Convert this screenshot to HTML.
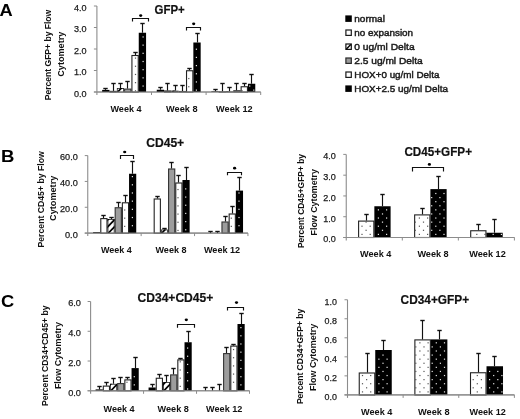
<!DOCTYPE html>
<html><head><meta charset="utf-8"><title>Figure</title>
<style>
html,body{margin:0;padding:0;background:#fff;}
body{width:520px;height:419px;overflow:hidden;}
svg{display:block;font-family:"Liberation Sans", sans-serif;filter:blur(0.3px);}
</style></head><body>
<svg width="520" height="419" viewBox="0 0 520 419">
<rect x="0" y="0" width="520" height="419" fill="#fff"/>
<line x1="96.9" y1="6" x2="96.9" y2="95" stroke="#8c8c8c" stroke-width="1.1"/>
<line x1="93.9" y1="6" x2="96.9" y2="6" stroke="#8c8c8c" stroke-width="1"/>
<text x="86.6" y="10.8" font-size="9.5" font-weight="normal" text-anchor="end" fill="#1a1a1a" textLength="12.6" lengthAdjust="spacingAndGlyphs" stroke="#1a1a1a" stroke-width="0.25">4.0</text>
<line x1="93.9" y1="27.5" x2="96.9" y2="27.5" stroke="#8c8c8c" stroke-width="1"/>
<text x="86.6" y="32.3" font-size="9.5" font-weight="normal" text-anchor="end" fill="#1a1a1a" textLength="12.6" lengthAdjust="spacingAndGlyphs" stroke="#1a1a1a" stroke-width="0.25">3.0</text>
<line x1="93.9" y1="49" x2="96.9" y2="49" stroke="#8c8c8c" stroke-width="1"/>
<text x="86.6" y="53.8" font-size="9.5" font-weight="normal" text-anchor="end" fill="#1a1a1a" textLength="12.6" lengthAdjust="spacingAndGlyphs" stroke="#1a1a1a" stroke-width="0.25">2.0</text>
<line x1="93.9" y1="70.5" x2="96.9" y2="70.5" stroke="#8c8c8c" stroke-width="1"/>
<text x="86.6" y="75.3" font-size="9.5" font-weight="normal" text-anchor="end" fill="#1a1a1a" textLength="12.6" lengthAdjust="spacingAndGlyphs" stroke="#1a1a1a" stroke-width="0.25">1.0</text>
<line x1="93.9" y1="92" x2="96.9" y2="92" stroke="#8c8c8c" stroke-width="1"/>
<text x="86.6" y="96.8" font-size="9.5" font-weight="normal" text-anchor="end" fill="#1a1a1a" textLength="12.6" lengthAdjust="spacingAndGlyphs" stroke="#1a1a1a" stroke-width="0.25">0.0</text>
<line x1="93.9" y1="92" x2="260.7" y2="92" stroke="#8c8c8c" stroke-width="1.1"/>
<line x1="151.5" y1="92" x2="151.5" y2="95" stroke="#8c8c8c" stroke-width="1"/>
<line x1="206.1" y1="92" x2="206.1" y2="95" stroke="#8c8c8c" stroke-width="1"/>
<line x1="260.7" y1="92" x2="260.7" y2="95" stroke="#8c8c8c" stroke-width="1"/>
<rect x="102.15" y="89.9" width="7.32" height="2.1" fill="#000"/>
<rect x="109.97" y="91.4" width="6.32" height="0.6" fill="#fff" stroke="#222" stroke-width="1.1"/>
<clipPath id="c17"><rect x="116.79" y="88" width="7.32" height="4"/></clipPath>
<rect x="117.29" y="88.5" width="6.32" height="3.5" fill="#fff" stroke="#222" stroke-width="0.8"/>
<g clip-path="url(#c17)">
<line x1="115.79" y1="94" x2="125.11" y2="84.21" stroke="#000" stroke-width="1.7"/>
<line x1="115.79" y1="87" x2="125.11" y2="77.21" stroke="#000" stroke-width="1.7"/>
<line x1="115.79" y1="80" x2="125.11" y2="70.21" stroke="#000" stroke-width="1.7"/>
</g>
<rect x="124.61" y="89.1" width="6.32" height="2.9" fill="#9d9d9d" stroke="#333" stroke-width="1.1"/>
<rect x="131.93" y="55.5" width="6.32" height="36.5" fill="#fff" stroke="#222" stroke-width="1.1"/>
<rect x="134.9" y="57.5" width="1.2" height="1.2" fill="#555"/>
<rect x="134.9" y="65.68" width="1.2" height="1.2" fill="#555"/>
<rect x="134.9" y="73.86" width="1.2" height="1.2" fill="#555"/>
<rect x="134.9" y="82.04" width="1.2" height="1.2" fill="#555"/>
<rect x="134.9" y="90.22" width="1.2" height="1.2" fill="#555"/>
<rect x="138.75" y="32.75" width="7.32" height="59.25" fill="#000"/>
<rect x="142.5" y="36.36" width="1.2" height="1.2" fill="#e8e8e8"/>
<rect x="142.5" y="44.54" width="1.2" height="1.2" fill="#e8e8e8"/>
<rect x="142.5" y="52.72" width="1.2" height="1.2" fill="#e8e8e8"/>
<rect x="142.5" y="60.9" width="1.2" height="1.2" fill="#e8e8e8"/>
<rect x="142.5" y="69.08" width="1.2" height="1.2" fill="#e8e8e8"/>
<rect x="142.5" y="77.26" width="1.2" height="1.2" fill="#e8e8e8"/>
<rect x="142.5" y="85.44" width="1.2" height="1.2" fill="#e8e8e8"/>
<line x1="105.5" y1="89.9" x2="105.5" y2="88.5" stroke="#111" stroke-width="1.15"/>
<line x1="103.3" y1="88.5" x2="107.7" y2="88.5" stroke="#111" stroke-width="1.4"/>
<line x1="113.5" y1="90.9" x2="113.5" y2="83.5" stroke="#111" stroke-width="1.15"/>
<line x1="111.3" y1="83.5" x2="115.7" y2="83.5" stroke="#111" stroke-width="1.4"/>
<line x1="120.5" y1="88" x2="120.5" y2="83.5" stroke="#111" stroke-width="1.15"/>
<line x1="118.3" y1="83.5" x2="122.7" y2="83.5" stroke="#111" stroke-width="1.4"/>
<line x1="127.5" y1="88.6" x2="127.5" y2="81.5" stroke="#111" stroke-width="1.15"/>
<line x1="125.3" y1="81.5" x2="129.7" y2="81.5" stroke="#111" stroke-width="1.4"/>
<line x1="135.5" y1="55" x2="135.5" y2="52.5" stroke="#111" stroke-width="1.15"/>
<line x1="133.3" y1="52.5" x2="137.7" y2="52.5" stroke="#111" stroke-width="1.4"/>
<line x1="142.5" y1="32.75" x2="142.5" y2="23.5" stroke="#111" stroke-width="1.15"/>
<line x1="140.3" y1="23.5" x2="144.7" y2="23.5" stroke="#111" stroke-width="1.4"/>
<rect x="156.75" y="89.75" width="7.32" height="2.25" fill="#000"/>
<rect x="164.57" y="91" width="6.32" height="1" fill="#fff" stroke="#222" stroke-width="1.1"/>
<clipPath id="c53"><rect x="171.39" y="90.6" width="7.32" height="1.4"/></clipPath>
<rect x="171.89" y="91.1" width="6.32" height="0.9" fill="#fff" stroke="#222" stroke-width="0.8"/>
<g clip-path="url(#c53)">
<line x1="170.39" y1="94" x2="179.71" y2="84.21" stroke="#000" stroke-width="1.7"/>
<line x1="170.39" y1="87" x2="179.71" y2="77.21" stroke="#000" stroke-width="1.7"/>
<line x1="170.39" y1="80" x2="179.71" y2="70.21" stroke="#000" stroke-width="1.7"/>
</g>
<rect x="179.21" y="91.5" width="6.32" height="0.5" fill="#9d9d9d" stroke="#333" stroke-width="1.1"/>
<rect x="186.53" y="70.75" width="6.32" height="21.25" fill="#fff" stroke="#222" stroke-width="1.1"/>
<rect x="188.2" y="77.95" width="1.2" height="1.2" fill="#555"/>
<rect x="188.2" y="86.13" width="1.2" height="1.2" fill="#555"/>
<rect x="193.35" y="42.5" width="7.32" height="49.5" fill="#000"/>
<rect x="195.8" y="48.63" width="1.2" height="1.2" fill="#e8e8e8"/>
<rect x="195.8" y="56.81" width="1.2" height="1.2" fill="#e8e8e8"/>
<rect x="195.8" y="64.99" width="1.2" height="1.2" fill="#e8e8e8"/>
<rect x="195.8" y="73.17" width="1.2" height="1.2" fill="#e8e8e8"/>
<rect x="195.8" y="81.35" width="1.2" height="1.2" fill="#e8e8e8"/>
<rect x="195.8" y="89.53" width="1.2" height="1.2" fill="#e8e8e8"/>
<line x1="160.5" y1="89.75" x2="160.5" y2="87.5" stroke="#111" stroke-width="1.15"/>
<line x1="158.3" y1="87.5" x2="162.7" y2="87.5" stroke="#111" stroke-width="1.4"/>
<line x1="167.5" y1="90.5" x2="167.5" y2="83.5" stroke="#111" stroke-width="1.15"/>
<line x1="165.3" y1="83.5" x2="169.7" y2="83.5" stroke="#111" stroke-width="1.4"/>
<line x1="175.5" y1="90.6" x2="175.5" y2="85.5" stroke="#111" stroke-width="1.15"/>
<line x1="173.3" y1="85.5" x2="177.7" y2="85.5" stroke="#111" stroke-width="1.4"/>
<line x1="182.5" y1="91" x2="182.5" y2="85.5" stroke="#111" stroke-width="1.15"/>
<line x1="180.3" y1="85.5" x2="184.7" y2="85.5" stroke="#111" stroke-width="1.4"/>
<line x1="189.5" y1="70.25" x2="189.5" y2="68.5" stroke="#111" stroke-width="1.15"/>
<line x1="187.3" y1="68.5" x2="191.7" y2="68.5" stroke="#111" stroke-width="1.4"/>
<line x1="197.5" y1="42.5" x2="197.5" y2="33.5" stroke="#111" stroke-width="1.15"/>
<line x1="195.3" y1="33.5" x2="199.7" y2="33.5" stroke="#111" stroke-width="1.4"/>
<rect x="211.35" y="91.4" width="7.32" height="0.6" fill="#000"/>
<rect x="219.17" y="91.9" width="6.32" height="0.1" fill="#fff" stroke="#222" stroke-width="1.1"/>
<clipPath id="c85"><rect x="225.99" y="91.4" width="7.32" height="0.6"/></clipPath>
<rect x="226.49" y="91.9" width="6.32" height="0.1" fill="#fff" stroke="#222" stroke-width="0.8"/>
<g clip-path="url(#c85)">
<line x1="224.99" y1="94" x2="234.31" y2="84.21" stroke="#000" stroke-width="1.7"/>
<line x1="224.99" y1="87" x2="234.31" y2="77.21" stroke="#000" stroke-width="1.7"/>
<line x1="224.99" y1="80" x2="234.31" y2="70.21" stroke="#000" stroke-width="1.7"/>
</g>
<rect x="233.81" y="90.75" width="6.32" height="1.25" fill="#9d9d9d" stroke="#333" stroke-width="1.1"/>
<rect x="241.13" y="86.75" width="6.32" height="5.25" fill="#fff" stroke="#222" stroke-width="1.1"/>
<rect x="241.5" y="90.22" width="1.2" height="1.2" fill="#555"/>
<rect x="247.95" y="83.75" width="7.32" height="8.25" fill="#000"/>
<rect x="249.1" y="85.44" width="1.2" height="1.2" fill="#e8e8e8"/>
<rect x="253.2" y="89.53" width="1.2" height="1.2" fill="#e8e8e8"/>
<line x1="215.5" y1="91.4" x2="215.5" y2="89.5" stroke="#111" stroke-width="1.15"/>
<line x1="213.3" y1="89.5" x2="217.7" y2="89.5" stroke="#111" stroke-width="1.4"/>
<line x1="222.5" y1="91.4" x2="222.5" y2="83.5" stroke="#111" stroke-width="1.15"/>
<line x1="220.3" y1="83.5" x2="224.7" y2="83.5" stroke="#111" stroke-width="1.4"/>
<line x1="229.5" y1="91.4" x2="229.5" y2="87.5" stroke="#111" stroke-width="1.15"/>
<line x1="227.3" y1="87.5" x2="231.7" y2="87.5" stroke="#111" stroke-width="1.4"/>
<line x1="236.5" y1="90.25" x2="236.5" y2="83.5" stroke="#111" stroke-width="1.15"/>
<line x1="234.3" y1="83.5" x2="238.7" y2="83.5" stroke="#111" stroke-width="1.4"/>
<line x1="244.5" y1="86.25" x2="244.5" y2="83.5" stroke="#111" stroke-width="1.15"/>
<line x1="242.3" y1="83.5" x2="246.7" y2="83.5" stroke="#111" stroke-width="1.4"/>
<line x1="251.5" y1="83.75" x2="251.5" y2="74.5" stroke="#111" stroke-width="1.15"/>
<line x1="249.3" y1="74.5" x2="253.7" y2="74.5" stroke="#111" stroke-width="1.4"/>
<line x1="96.9" y1="92" x2="260.7" y2="92" stroke="#8c8c8c" stroke-width="1"/>
<path d="M132.5 21.4 V18.5 H148.5 V21.4" fill="none" stroke="#111" stroke-width="1.15"/>
<ellipse cx="140.7" cy="15.6" rx="1.6" ry="1.35" fill="#000"/>
<path d="M186.5 30.6 V27.5 H200.5 V30.6" fill="none" stroke="#111" stroke-width="1.15"/>
<ellipse cx="193.7" cy="23.8" rx="1.6" ry="1.35" fill="#000"/>
<text x="110.5" y="112.2" font-size="9.7" font-weight="bold" text-anchor="start" fill="#111" textLength="31" lengthAdjust="spacingAndGlyphs">Week 4</text>
<text x="166.1" y="112.2" font-size="9.7" font-weight="bold" text-anchor="start" fill="#111" textLength="31.5" lengthAdjust="spacingAndGlyphs">Week 8</text>
<text x="216.1" y="112.2" font-size="9.7" font-weight="bold" text-anchor="start" fill="#111" textLength="36.6" lengthAdjust="spacingAndGlyphs">Week 12</text>
<text x="154.6" y="13.7" font-size="12.54" font-weight="bold" text-anchor="start" fill="#111" textLength="30.2" lengthAdjust="spacingAndGlyphs" stroke="#111" stroke-width="0.2">GFP+</text>
<text transform="translate(50.9 55) rotate(-90)" x="0" y="0" font-size="8.6" font-weight="bold" text-anchor="middle" fill="#111" textLength="90.5" lengthAdjust="spacingAndGlyphs">Percent GFP+ by Flow</text>
<text transform="translate(63.6 54.2) rotate(-90)" x="0" y="0" font-size="8.6" font-weight="bold" text-anchor="middle" fill="#111" textLength="45" lengthAdjust="spacingAndGlyphs">Cytometry</text>
<line x1="87.75" y1="155.6" x2="87.75" y2="236.1" stroke="#8c8c8c" stroke-width="1.1"/>
<line x1="84.75" y1="155.6" x2="87.75" y2="155.6" stroke="#8c8c8c" stroke-width="1"/>
<text x="77.8" y="160.4" font-size="9.5" font-weight="normal" text-anchor="end" fill="#1a1a1a" textLength="17.8" lengthAdjust="spacingAndGlyphs" stroke="#1a1a1a" stroke-width="0.25">60.0</text>
<line x1="84.75" y1="181.43" x2="87.75" y2="181.43" stroke="#8c8c8c" stroke-width="1"/>
<text x="77.8" y="186.23" font-size="9.5" font-weight="normal" text-anchor="end" fill="#1a1a1a" textLength="17.8" lengthAdjust="spacingAndGlyphs" stroke="#1a1a1a" stroke-width="0.25">40.0</text>
<line x1="84.75" y1="207.27" x2="87.75" y2="207.27" stroke="#8c8c8c" stroke-width="1"/>
<text x="77.8" y="212.07" font-size="9.5" font-weight="normal" text-anchor="end" fill="#1a1a1a" textLength="17.8" lengthAdjust="spacingAndGlyphs" stroke="#1a1a1a" stroke-width="0.25">20.0</text>
<line x1="84.75" y1="233.1" x2="87.75" y2="233.1" stroke="#8c8c8c" stroke-width="1"/>
<text x="77.8" y="237.9" font-size="9.5" font-weight="normal" text-anchor="end" fill="#1a1a1a" textLength="12.8" lengthAdjust="spacingAndGlyphs" stroke="#1a1a1a" stroke-width="0.25">0.0</text>
<line x1="84.75" y1="233.1" x2="247.95" y2="233.1" stroke="#8c8c8c" stroke-width="1.1"/>
<line x1="141.15" y1="233.1" x2="141.15" y2="236.1" stroke="#8c8c8c" stroke-width="1"/>
<line x1="194.55" y1="233.1" x2="194.55" y2="236.1" stroke="#8c8c8c" stroke-width="1"/>
<line x1="247.95" y1="233.1" x2="247.95" y2="236.1" stroke="#8c8c8c" stroke-width="1"/>
<rect x="93.1" y="232.2" width="7.19" height="0.9" fill="#000"/>
<rect x="100.79" y="218.6" width="6.19" height="14.5" fill="#fff" stroke="#222" stroke-width="1.1"/>
<clipPath id="c136"><rect x="107.48" y="219" width="7.19" height="14.1"/></clipPath>
<rect x="107.98" y="219.5" width="6.19" height="13.6" fill="#fff" stroke="#222" stroke-width="0.8"/>
<g clip-path="url(#c136)">
<line x1="106.48" y1="235.1" x2="115.67" y2="225.45" stroke="#000" stroke-width="1.7"/>
<line x1="106.48" y1="228.1" x2="115.67" y2="218.45" stroke="#000" stroke-width="1.7"/>
<line x1="106.48" y1="221.1" x2="115.67" y2="211.45" stroke="#000" stroke-width="1.7"/>
<line x1="106.48" y1="214.1" x2="115.67" y2="204.45" stroke="#000" stroke-width="1.7"/>
<line x1="106.48" y1="207.1" x2="115.67" y2="197.45" stroke="#000" stroke-width="1.7"/>
</g>
<rect x="115.17" y="207.75" width="6.19" height="25.35" fill="#9d9d9d" stroke="#333" stroke-width="1.1"/>
<rect x="122.36" y="202.8" width="6.19" height="30.3" fill="#fff" stroke="#222" stroke-width="1.1"/>
<rect x="124.1" y="209.4" width="1.2" height="1.2" fill="#555"/>
<rect x="124.1" y="217.58" width="1.2" height="1.2" fill="#555"/>
<rect x="124.1" y="225.76" width="1.2" height="1.2" fill="#555"/>
<rect x="129.05" y="173.75" width="7.19" height="59.35" fill="#000"/>
<rect x="131.8" y="176.02" width="1.2" height="1.2" fill="#e8e8e8"/>
<rect x="131.8" y="184.2" width="1.2" height="1.2" fill="#e8e8e8"/>
<rect x="131.8" y="192.38" width="1.2" height="1.2" fill="#e8e8e8"/>
<rect x="131.8" y="200.56" width="1.2" height="1.2" fill="#e8e8e8"/>
<rect x="131.8" y="208.74" width="1.2" height="1.2" fill="#e8e8e8"/>
<rect x="131.8" y="216.92" width="1.2" height="1.2" fill="#e8e8e8"/>
<rect x="131.8" y="225.1" width="1.2" height="1.2" fill="#e8e8e8"/>
<line x1="103.5" y1="218.1" x2="103.5" y2="215.5" stroke="#111" stroke-width="1.15"/>
<line x1="101.3" y1="215.5" x2="105.7" y2="215.5" stroke="#111" stroke-width="1.4"/>
<line x1="111.5" y1="219" x2="111.5" y2="217.5" stroke="#111" stroke-width="1.15"/>
<line x1="109.3" y1="217.5" x2="113.7" y2="217.5" stroke="#111" stroke-width="1.4"/>
<line x1="118.5" y1="207.25" x2="118.5" y2="202.5" stroke="#111" stroke-width="1.15"/>
<line x1="116.3" y1="202.5" x2="120.7" y2="202.5" stroke="#111" stroke-width="1.4"/>
<line x1="125.5" y1="202.3" x2="125.5" y2="195.5" stroke="#111" stroke-width="1.15"/>
<line x1="123.3" y1="195.5" x2="127.7" y2="195.5" stroke="#111" stroke-width="1.4"/>
<line x1="132.5" y1="173.75" x2="132.5" y2="161.5" stroke="#111" stroke-width="1.15"/>
<line x1="130.3" y1="161.5" x2="134.7" y2="161.5" stroke="#111" stroke-width="1.4"/>
<rect x="154.19" y="199" width="6.19" height="34.1" fill="#fff" stroke="#222" stroke-width="1.1"/>
<clipPath id="c169"><rect x="160.88" y="229.4" width="7.19" height="3.7"/></clipPath>
<rect x="161.38" y="229.9" width="6.19" height="3.2" fill="#fff" stroke="#222" stroke-width="0.8"/>
<g clip-path="url(#c169)">
<line x1="159.88" y1="235.1" x2="169.07" y2="225.45" stroke="#000" stroke-width="1.7"/>
<line x1="159.88" y1="228.1" x2="169.07" y2="218.45" stroke="#000" stroke-width="1.7"/>
<line x1="159.88" y1="221.1" x2="169.07" y2="211.45" stroke="#000" stroke-width="1.7"/>
</g>
<rect x="168.57" y="169" width="6.19" height="64.1" fill="#9d9d9d" stroke="#333" stroke-width="1.1"/>
<rect x="175.76" y="183" width="6.19" height="50.1" fill="#fff" stroke="#222" stroke-width="1.1"/>
<rect x="177.4" y="188.95" width="1.2" height="1.2" fill="#555"/>
<rect x="177.4" y="197.13" width="1.2" height="1.2" fill="#555"/>
<rect x="177.4" y="205.31" width="1.2" height="1.2" fill="#555"/>
<rect x="177.4" y="213.49" width="1.2" height="1.2" fill="#555"/>
<rect x="177.4" y="221.67" width="1.2" height="1.2" fill="#555"/>
<rect x="177.4" y="229.85" width="1.2" height="1.2" fill="#555"/>
<rect x="182.45" y="180" width="7.19" height="53.1" fill="#000"/>
<rect x="185.1" y="188.29" width="1.2" height="1.2" fill="#e8e8e8"/>
<rect x="185.1" y="196.47" width="1.2" height="1.2" fill="#e8e8e8"/>
<rect x="185.1" y="204.65" width="1.2" height="1.2" fill="#e8e8e8"/>
<rect x="185.1" y="212.83" width="1.2" height="1.2" fill="#e8e8e8"/>
<rect x="185.1" y="221.01" width="1.2" height="1.2" fill="#e8e8e8"/>
<rect x="185.1" y="229.19" width="1.2" height="1.2" fill="#e8e8e8"/>
<line x1="157.5" y1="198.5" x2="157.5" y2="196.5" stroke="#111" stroke-width="1.15"/>
<line x1="155.3" y1="196.5" x2="159.7" y2="196.5" stroke="#111" stroke-width="1.4"/>
<line x1="164.5" y1="229.4" x2="164.5" y2="228.5" stroke="#111" stroke-width="1.15"/>
<line x1="162.3" y1="228.5" x2="166.7" y2="228.5" stroke="#111" stroke-width="1.4"/>
<line x1="171.5" y1="168.5" x2="171.5" y2="162.5" stroke="#111" stroke-width="1.15"/>
<line x1="169.3" y1="162.5" x2="173.7" y2="162.5" stroke="#111" stroke-width="1.4"/>
<line x1="178.5" y1="182.5" x2="178.5" y2="175.5" stroke="#111" stroke-width="1.15"/>
<line x1="176.3" y1="175.5" x2="180.7" y2="175.5" stroke="#111" stroke-width="1.4"/>
<line x1="186.5" y1="180" x2="186.5" y2="167.5" stroke="#111" stroke-width="1.15"/>
<line x1="184.3" y1="167.5" x2="188.7" y2="167.5" stroke="#111" stroke-width="1.4"/>
<rect x="221.97" y="222" width="6.19" height="11.1" fill="#9d9d9d" stroke="#333" stroke-width="1.1"/>
<rect x="229.16" y="214" width="6.19" height="19.1" fill="#fff" stroke="#222" stroke-width="1.1"/>
<rect x="230.7" y="217.58" width="1.2" height="1.2" fill="#555"/>
<rect x="230.7" y="225.76" width="1.2" height="1.2" fill="#555"/>
<rect x="235.85" y="190.6" width="7.19" height="42.5" fill="#000"/>
<rect x="238.4" y="192.38" width="1.2" height="1.2" fill="#e8e8e8"/>
<rect x="238.4" y="200.56" width="1.2" height="1.2" fill="#e8e8e8"/>
<rect x="238.4" y="208.74" width="1.2" height="1.2" fill="#e8e8e8"/>
<rect x="238.4" y="216.92" width="1.2" height="1.2" fill="#e8e8e8"/>
<rect x="238.4" y="225.1" width="1.2" height="1.2" fill="#e8e8e8"/>
<line x1="210.5" y1="233.1" x2="210.5" y2="231.5" stroke="#111" stroke-width="1.15"/>
<line x1="208.3" y1="231.5" x2="212.7" y2="231.5" stroke="#111" stroke-width="1.4"/>
<line x1="217.5" y1="233.1" x2="217.5" y2="231.5" stroke="#111" stroke-width="1.15"/>
<line x1="215.3" y1="231.5" x2="219.7" y2="231.5" stroke="#111" stroke-width="1.4"/>
<line x1="225.5" y1="221.5" x2="225.5" y2="216.5" stroke="#111" stroke-width="1.15"/>
<line x1="223.3" y1="216.5" x2="227.7" y2="216.5" stroke="#111" stroke-width="1.4"/>
<line x1="232.5" y1="213.5" x2="232.5" y2="206.5" stroke="#111" stroke-width="1.15"/>
<line x1="230.3" y1="206.5" x2="234.7" y2="206.5" stroke="#111" stroke-width="1.4"/>
<line x1="239.5" y1="190.6" x2="239.5" y2="177.5" stroke="#111" stroke-width="1.15"/>
<line x1="237.3" y1="177.5" x2="241.7" y2="177.5" stroke="#111" stroke-width="1.4"/>
<line x1="87.75" y1="233.1" x2="247.95" y2="233.1" stroke="#8c8c8c" stroke-width="1"/>
<path d="M120.5 159 V155.5 H133.5 V159" fill="none" stroke="#111" stroke-width="1.15"/>
<ellipse cx="124.7" cy="152" rx="1.6" ry="1.35" fill="#000"/>
<path d="M227.5 175.3 V172.5 H241.5 V175.3" fill="none" stroke="#111" stroke-width="1.15"/>
<ellipse cx="234.6" cy="168.2" rx="1.6" ry="1.35" fill="#000"/>
<text x="100.9" y="253.1" font-size="9.7" font-weight="bold" text-anchor="start" fill="#111" textLength="30.8" lengthAdjust="spacingAndGlyphs">Week 4</text>
<text x="155.5" y="253.1" font-size="9.7" font-weight="bold" text-anchor="start" fill="#111" textLength="31" lengthAdjust="spacingAndGlyphs">Week 8</text>
<text x="203.9" y="253.1" font-size="9.7" font-weight="bold" text-anchor="start" fill="#111" textLength="36.3" lengthAdjust="spacingAndGlyphs">Week 12</text>
<text x="146.2" y="146.6" font-size="12.54" font-weight="bold" text-anchor="start" fill="#111" textLength="38" lengthAdjust="spacingAndGlyphs" stroke="#111" stroke-width="0.2">CD45+</text>
<text transform="translate(43.8 199.4) rotate(-90)" x="0" y="0" font-size="8.6" font-weight="bold" text-anchor="middle" fill="#111" textLength="96.2" lengthAdjust="spacingAndGlyphs">Percent CD45+ by Flow</text>
<text transform="translate(55.8 198.3) rotate(-90)" x="0" y="0" font-size="8.6" font-weight="bold" text-anchor="middle" fill="#111" textLength="45.2" lengthAdjust="spacingAndGlyphs">Cytometry</text>
<line x1="346.25" y1="154.4" x2="346.25" y2="240.5" stroke="#8c8c8c" stroke-width="1.1"/>
<line x1="343.25" y1="154.4" x2="346.25" y2="154.4" stroke="#8c8c8c" stroke-width="1"/>
<text x="335.8" y="159.2" font-size="9.5" font-weight="normal" text-anchor="end" fill="#1a1a1a" textLength="12.6" lengthAdjust="spacingAndGlyphs" stroke="#1a1a1a" stroke-width="0.25">4.0</text>
<line x1="343.25" y1="175.18" x2="346.25" y2="175.18" stroke="#8c8c8c" stroke-width="1"/>
<text x="335.8" y="179.98" font-size="9.5" font-weight="normal" text-anchor="end" fill="#1a1a1a" textLength="12.6" lengthAdjust="spacingAndGlyphs" stroke="#1a1a1a" stroke-width="0.25">3.0</text>
<line x1="343.25" y1="195.95" x2="346.25" y2="195.95" stroke="#8c8c8c" stroke-width="1"/>
<text x="335.8" y="200.75" font-size="9.5" font-weight="normal" text-anchor="end" fill="#1a1a1a" textLength="12.6" lengthAdjust="spacingAndGlyphs" stroke="#1a1a1a" stroke-width="0.25">2.0</text>
<line x1="343.25" y1="216.72" x2="346.25" y2="216.72" stroke="#8c8c8c" stroke-width="1"/>
<text x="335.8" y="221.53" font-size="9.5" font-weight="normal" text-anchor="end" fill="#1a1a1a" textLength="12.6" lengthAdjust="spacingAndGlyphs" stroke="#1a1a1a" stroke-width="0.25">1.0</text>
<line x1="343.25" y1="237.5" x2="346.25" y2="237.5" stroke="#8c8c8c" stroke-width="1"/>
<text x="335.8" y="242.3" font-size="9.5" font-weight="normal" text-anchor="end" fill="#1a1a1a" textLength="12.6" lengthAdjust="spacingAndGlyphs" stroke="#1a1a1a" stroke-width="0.25">0.0</text>
<line x1="343.25" y1="237.5" x2="514.4" y2="237.5" stroke="#8c8c8c" stroke-width="1.1"/>
<line x1="402.3" y1="237.5" x2="402.3" y2="240.5" stroke="#8c8c8c" stroke-width="1"/>
<line x1="458.35" y1="237.5" x2="458.35" y2="240.5" stroke="#8c8c8c" stroke-width="1"/>
<line x1="514.4" y1="237.5" x2="514.4" y2="240.5" stroke="#8c8c8c" stroke-width="1"/>
<rect x="358.6" y="221.1" width="15.25" height="16.4" fill="#fff" stroke="#222" stroke-width="1.1"/>
<rect x="365.5" y="221.53" width="1.2" height="1.2" fill="#555"/>
<rect x="361.4" y="225.62" width="1.2" height="1.2" fill="#555"/>
<rect x="369.6" y="225.62" width="1.2" height="1.2" fill="#555"/>
<rect x="365.5" y="229.71" width="1.2" height="1.2" fill="#555"/>
<rect x="361.4" y="233.8" width="1.2" height="1.2" fill="#555"/>
<rect x="369.6" y="233.8" width="1.2" height="1.2" fill="#555"/>
<rect x="374.35" y="206.25" width="16.25" height="31.25" fill="#000"/>
<rect x="377.8" y="209.26" width="1.2" height="1.2" fill="#e8e8e8"/>
<rect x="386" y="209.26" width="1.2" height="1.2" fill="#e8e8e8"/>
<rect x="381.9" y="213.35" width="1.2" height="1.2" fill="#e8e8e8"/>
<rect x="377.8" y="217.44" width="1.2" height="1.2" fill="#e8e8e8"/>
<rect x="386" y="217.44" width="1.2" height="1.2" fill="#e8e8e8"/>
<rect x="381.9" y="221.53" width="1.2" height="1.2" fill="#e8e8e8"/>
<rect x="377.8" y="225.62" width="1.2" height="1.2" fill="#e8e8e8"/>
<rect x="386" y="225.62" width="1.2" height="1.2" fill="#e8e8e8"/>
<rect x="381.9" y="229.71" width="1.2" height="1.2" fill="#e8e8e8"/>
<rect x="377.8" y="233.8" width="1.2" height="1.2" fill="#e8e8e8"/>
<rect x="386" y="233.8" width="1.2" height="1.2" fill="#e8e8e8"/>
<line x1="366.5" y1="220.6" x2="366.5" y2="214.5" stroke="#111" stroke-width="1.15"/>
<line x1="364.3" y1="214.5" x2="368.7" y2="214.5" stroke="#111" stroke-width="1.4"/>
<line x1="382.5" y1="206.25" x2="382.5" y2="194.5" stroke="#111" stroke-width="1.15"/>
<line x1="380.3" y1="194.5" x2="384.7" y2="194.5" stroke="#111" stroke-width="1.4"/>
<rect x="414.65" y="214.9" width="15.25" height="22.6" fill="#fff" stroke="#222" stroke-width="1.1"/>
<rect x="418.8" y="217.44" width="1.2" height="1.2" fill="#555"/>
<rect x="427" y="217.44" width="1.2" height="1.2" fill="#555"/>
<rect x="414.7" y="221.53" width="1.2" height="1.2" fill="#555"/>
<rect x="422.9" y="221.53" width="1.2" height="1.2" fill="#555"/>
<rect x="418.8" y="225.62" width="1.2" height="1.2" fill="#555"/>
<rect x="427" y="225.62" width="1.2" height="1.2" fill="#555"/>
<rect x="414.7" y="229.71" width="1.2" height="1.2" fill="#555"/>
<rect x="422.9" y="229.71" width="1.2" height="1.2" fill="#555"/>
<rect x="418.8" y="233.8" width="1.2" height="1.2" fill="#555"/>
<rect x="427" y="233.8" width="1.2" height="1.2" fill="#555"/>
<rect x="430.4" y="189.1" width="16.25" height="48.4" fill="#000"/>
<rect x="435.2" y="192.9" width="1.2" height="1.2" fill="#e8e8e8"/>
<rect x="443.4" y="192.9" width="1.2" height="1.2" fill="#e8e8e8"/>
<rect x="431.1" y="196.99" width="1.2" height="1.2" fill="#e8e8e8"/>
<rect x="439.3" y="196.99" width="1.2" height="1.2" fill="#e8e8e8"/>
<rect x="435.2" y="201.08" width="1.2" height="1.2" fill="#e8e8e8"/>
<rect x="443.4" y="201.08" width="1.2" height="1.2" fill="#e8e8e8"/>
<rect x="431.1" y="205.17" width="1.2" height="1.2" fill="#e8e8e8"/>
<rect x="439.3" y="205.17" width="1.2" height="1.2" fill="#e8e8e8"/>
<rect x="435.2" y="209.26" width="1.2" height="1.2" fill="#e8e8e8"/>
<rect x="443.4" y="209.26" width="1.2" height="1.2" fill="#e8e8e8"/>
<rect x="431.1" y="213.35" width="1.2" height="1.2" fill="#e8e8e8"/>
<rect x="439.3" y="213.35" width="1.2" height="1.2" fill="#e8e8e8"/>
<rect x="435.2" y="217.44" width="1.2" height="1.2" fill="#e8e8e8"/>
<rect x="443.4" y="217.44" width="1.2" height="1.2" fill="#e8e8e8"/>
<rect x="431.1" y="221.53" width="1.2" height="1.2" fill="#e8e8e8"/>
<rect x="439.3" y="221.53" width="1.2" height="1.2" fill="#e8e8e8"/>
<rect x="435.2" y="225.62" width="1.2" height="1.2" fill="#e8e8e8"/>
<rect x="443.4" y="225.62" width="1.2" height="1.2" fill="#e8e8e8"/>
<rect x="431.1" y="229.71" width="1.2" height="1.2" fill="#e8e8e8"/>
<rect x="439.3" y="229.71" width="1.2" height="1.2" fill="#e8e8e8"/>
<rect x="435.2" y="233.8" width="1.2" height="1.2" fill="#e8e8e8"/>
<rect x="443.4" y="233.8" width="1.2" height="1.2" fill="#e8e8e8"/>
<line x1="422.5" y1="214.4" x2="422.5" y2="208.5" stroke="#111" stroke-width="1.15"/>
<line x1="420.3" y1="208.5" x2="424.7" y2="208.5" stroke="#111" stroke-width="1.4"/>
<line x1="438.5" y1="189.1" x2="438.5" y2="176.5" stroke="#111" stroke-width="1.15"/>
<line x1="436.3" y1="176.5" x2="440.7" y2="176.5" stroke="#111" stroke-width="1.4"/>
<rect x="470.7" y="230.75" width="15.25" height="6.75" fill="#fff" stroke="#222" stroke-width="1.1"/>
<rect x="476.2" y="233.8" width="1.2" height="1.2" fill="#555"/>
<rect x="484.4" y="233.8" width="1.2" height="1.2" fill="#555"/>
<rect x="486.45" y="232.75" width="16.25" height="4.75" fill="#000"/>
<rect x="492.6" y="233.8" width="1.2" height="1.2" fill="#e8e8e8"/>
<rect x="500.8" y="233.8" width="1.2" height="1.2" fill="#e8e8e8"/>
<line x1="478.5" y1="230.25" x2="478.5" y2="224.5" stroke="#111" stroke-width="1.15"/>
<line x1="476.3" y1="224.5" x2="480.7" y2="224.5" stroke="#111" stroke-width="1.4"/>
<line x1="494.5" y1="232.75" x2="494.5" y2="219.5" stroke="#111" stroke-width="1.15"/>
<line x1="492.3" y1="219.5" x2="496.7" y2="219.5" stroke="#111" stroke-width="1.4"/>
<line x1="346.25" y1="237.5" x2="514.4" y2="237.5" stroke="#8c8c8c" stroke-width="1"/>
<path d="M412.5 171.4 V167.5 H443.5 V171.4" fill="none" stroke="#111" stroke-width="1.15"/>
<ellipse cx="429.4" cy="164.4" rx="1.6" ry="1.35" fill="#000"/>
<text x="360.1" y="257.4" font-size="9.7" font-weight="bold" text-anchor="start" fill="#111" textLength="31.3" lengthAdjust="spacingAndGlyphs">Week 4</text>
<text x="417.4" y="257.4" font-size="9.7" font-weight="bold" text-anchor="start" fill="#111" textLength="31.3" lengthAdjust="spacingAndGlyphs">Week 8</text>
<text x="469.3" y="257.4" font-size="9.7" font-weight="bold" text-anchor="start" fill="#111" textLength="36.5" lengthAdjust="spacingAndGlyphs">Week 12</text>
<text x="404.4" y="156" font-size="12.54" font-weight="bold" text-anchor="start" fill="#111" textLength="67.6" lengthAdjust="spacingAndGlyphs" stroke="#111" stroke-width="0.2">CD45+GFP+</text>
<text transform="translate(304.1 201) rotate(-90)" x="0" y="0" font-size="8.6" font-weight="bold" text-anchor="middle" fill="#111" textLength="94" lengthAdjust="spacingAndGlyphs">Percent CD45+GFP+ by</text>
<text transform="translate(316.8 202.3) rotate(-90)" x="0" y="0" font-size="8.6" font-weight="bold" text-anchor="middle" fill="#111" textLength="66.4" lengthAdjust="spacingAndGlyphs">Flow Cytometry</text>
<line x1="90.6" y1="301.5" x2="90.6" y2="393.8" stroke="#8c8c8c" stroke-width="1.1"/>
<line x1="87.6" y1="301.5" x2="90.6" y2="301.5" stroke="#8c8c8c" stroke-width="1"/>
<text x="81" y="306.3" font-size="9.5" font-weight="normal" text-anchor="end" fill="#1a1a1a" textLength="12.8" lengthAdjust="spacingAndGlyphs" stroke="#1a1a1a" stroke-width="0.25">6.0</text>
<line x1="87.6" y1="331.27" x2="90.6" y2="331.27" stroke="#8c8c8c" stroke-width="1"/>
<text x="81" y="336.07" font-size="9.5" font-weight="normal" text-anchor="end" fill="#1a1a1a" textLength="12.8" lengthAdjust="spacingAndGlyphs" stroke="#1a1a1a" stroke-width="0.25">4.0</text>
<line x1="87.6" y1="361.03" x2="90.6" y2="361.03" stroke="#8c8c8c" stroke-width="1"/>
<text x="81" y="365.83" font-size="9.5" font-weight="normal" text-anchor="end" fill="#1a1a1a" textLength="12.8" lengthAdjust="spacingAndGlyphs" stroke="#1a1a1a" stroke-width="0.25">2.0</text>
<line x1="87.6" y1="390.8" x2="90.6" y2="390.8" stroke="#8c8c8c" stroke-width="1"/>
<text x="81" y="395.6" font-size="9.5" font-weight="normal" text-anchor="end" fill="#1a1a1a" textLength="12.8" lengthAdjust="spacingAndGlyphs" stroke="#1a1a1a" stroke-width="0.25">0.0</text>
<line x1="87.6" y1="390.8" x2="249.51" y2="390.8" stroke="#8c8c8c" stroke-width="1.1"/>
<line x1="143.57" y1="390.8" x2="143.57" y2="393.8" stroke="#8c8c8c" stroke-width="1"/>
<line x1="196.54" y1="390.8" x2="196.54" y2="393.8" stroke="#8c8c8c" stroke-width="1"/>
<line x1="249.51" y1="390.8" x2="249.51" y2="393.8" stroke="#8c8c8c" stroke-width="1"/>
<rect x="95.6" y="389.4" width="7.19" height="1.4" fill="#000"/>
<rect x="103.29" y="386.1" width="6.19" height="4.7" fill="#fff" stroke="#222" stroke-width="1.1"/>
<clipPath id="c342"><rect x="109.98" y="383.75" width="7.19" height="7.05"/></clipPath>
<rect x="110.48" y="384.25" width="6.19" height="6.55" fill="#fff" stroke="#222" stroke-width="0.8"/>
<g clip-path="url(#c342)">
<line x1="108.98" y1="392.8" x2="118.17" y2="383.15" stroke="#000" stroke-width="1.7"/>
<line x1="108.98" y1="385.8" x2="118.17" y2="376.15" stroke="#000" stroke-width="1.7"/>
<line x1="108.98" y1="378.8" x2="118.17" y2="369.15" stroke="#000" stroke-width="1.7"/>
<line x1="108.98" y1="371.8" x2="118.17" y2="362.15" stroke="#000" stroke-width="1.7"/>
</g>
<rect x="117.67" y="383.6" width="6.19" height="7.2" fill="#9d9d9d" stroke="#333" stroke-width="1.1"/>
<rect x="124.86" y="379.9" width="6.19" height="10.9" fill="#fff" stroke="#222" stroke-width="1.1"/>
<rect x="126.35" y="381.67" width="1.2" height="1.2" fill="#555"/>
<rect x="131.55" y="368.1" width="7.19" height="22.7" fill="#000"/>
<rect x="133.7" y="376.1" width="1.2" height="1.2" fill="#e8e8e8"/>
<rect x="133.7" y="384.28" width="1.2" height="1.2" fill="#e8e8e8"/>
<line x1="99.5" y1="389.4" x2="99.5" y2="386.5" stroke="#111" stroke-width="1.15"/>
<line x1="97.3" y1="386.5" x2="101.7" y2="386.5" stroke="#111" stroke-width="1.4"/>
<line x1="106.5" y1="385.6" x2="106.5" y2="382.5" stroke="#111" stroke-width="1.15"/>
<line x1="104.3" y1="382.5" x2="108.7" y2="382.5" stroke="#111" stroke-width="1.4"/>
<line x1="113.5" y1="383.75" x2="113.5" y2="378.5" stroke="#111" stroke-width="1.15"/>
<line x1="111.3" y1="378.5" x2="115.7" y2="378.5" stroke="#111" stroke-width="1.4"/>
<line x1="120.5" y1="383.1" x2="120.5" y2="377.5" stroke="#111" stroke-width="1.15"/>
<line x1="118.3" y1="377.5" x2="122.7" y2="377.5" stroke="#111" stroke-width="1.4"/>
<line x1="127.5" y1="379.4" x2="127.5" y2="377.5" stroke="#111" stroke-width="1.15"/>
<line x1="125.3" y1="377.5" x2="129.7" y2="377.5" stroke="#111" stroke-width="1.4"/>
<line x1="135.5" y1="368.1" x2="135.5" y2="357.5" stroke="#111" stroke-width="1.15"/>
<line x1="133.3" y1="357.5" x2="137.7" y2="357.5" stroke="#111" stroke-width="1.4"/>
<rect x="148.57" y="387.5" width="7.19" height="3.3" fill="#000"/>
<rect x="156.26" y="378.25" width="6.19" height="12.55" fill="#fff" stroke="#222" stroke-width="1.1"/>
<clipPath id="c370"><rect x="162.95" y="381.9" width="7.19" height="8.9"/></clipPath>
<rect x="163.45" y="382.4" width="6.19" height="8.4" fill="#fff" stroke="#222" stroke-width="0.8"/>
<g clip-path="url(#c370)">
<line x1="161.95" y1="392.8" x2="171.14" y2="383.15" stroke="#000" stroke-width="1.7"/>
<line x1="161.95" y1="385.8" x2="171.14" y2="376.15" stroke="#000" stroke-width="1.7"/>
<line x1="161.95" y1="378.8" x2="171.14" y2="369.15" stroke="#000" stroke-width="1.7"/>
<line x1="161.95" y1="371.8" x2="171.14" y2="362.15" stroke="#000" stroke-width="1.7"/>
</g>
<rect x="170.64" y="374.9" width="6.19" height="15.9" fill="#9d9d9d" stroke="#333" stroke-width="1.1"/>
<rect x="177.83" y="359.9" width="6.19" height="30.9" fill="#fff" stroke="#222" stroke-width="1.1"/>
<rect x="179.65" y="361.22" width="1.2" height="1.2" fill="#555"/>
<rect x="179.65" y="369.4" width="1.2" height="1.2" fill="#555"/>
<rect x="179.65" y="377.58" width="1.2" height="1.2" fill="#555"/>
<rect x="179.65" y="385.76" width="1.2" height="1.2" fill="#555"/>
<rect x="184.52" y="342.25" width="7.19" height="48.55" fill="#000"/>
<rect x="187" y="347.47" width="1.2" height="1.2" fill="#e8e8e8"/>
<rect x="187" y="355.65" width="1.2" height="1.2" fill="#e8e8e8"/>
<rect x="187" y="363.83" width="1.2" height="1.2" fill="#e8e8e8"/>
<rect x="187" y="372.01" width="1.2" height="1.2" fill="#e8e8e8"/>
<rect x="187" y="380.19" width="1.2" height="1.2" fill="#e8e8e8"/>
<rect x="187" y="388.37" width="1.2" height="1.2" fill="#e8e8e8"/>
<line x1="152.5" y1="387.5" x2="152.5" y2="384.5" stroke="#111" stroke-width="1.15"/>
<line x1="150.3" y1="384.5" x2="154.7" y2="384.5" stroke="#111" stroke-width="1.4"/>
<line x1="159.5" y1="377.75" x2="159.5" y2="374.5" stroke="#111" stroke-width="1.15"/>
<line x1="157.3" y1="374.5" x2="161.7" y2="374.5" stroke="#111" stroke-width="1.4"/>
<line x1="166.5" y1="381.9" x2="166.5" y2="375.5" stroke="#111" stroke-width="1.15"/>
<line x1="164.3" y1="375.5" x2="168.7" y2="375.5" stroke="#111" stroke-width="1.4"/>
<line x1="173.5" y1="374.4" x2="173.5" y2="368.5" stroke="#111" stroke-width="1.15"/>
<line x1="171.3" y1="368.5" x2="175.7" y2="368.5" stroke="#111" stroke-width="1.4"/>
<line x1="180.5" y1="359.4" x2="180.5" y2="358.5" stroke="#111" stroke-width="1.15"/>
<line x1="178.3" y1="358.5" x2="182.7" y2="358.5" stroke="#111" stroke-width="1.4"/>
<line x1="188.5" y1="342.25" x2="188.5" y2="331.5" stroke="#111" stroke-width="1.15"/>
<line x1="186.3" y1="331.5" x2="190.7" y2="331.5" stroke="#111" stroke-width="1.4"/>
<rect x="223.61" y="353.6" width="6.19" height="37.2" fill="#9d9d9d" stroke="#333" stroke-width="1.1"/>
<rect x="230.8" y="346.1" width="6.19" height="44.7" fill="#fff" stroke="#222" stroke-width="1.1"/>
<rect x="232.95" y="348.95" width="1.2" height="1.2" fill="#555"/>
<rect x="232.95" y="357.13" width="1.2" height="1.2" fill="#555"/>
<rect x="232.95" y="365.31" width="1.2" height="1.2" fill="#555"/>
<rect x="232.95" y="373.49" width="1.2" height="1.2" fill="#555"/>
<rect x="232.95" y="381.67" width="1.2" height="1.2" fill="#555"/>
<rect x="237.49" y="324" width="7.19" height="66.8" fill="#000"/>
<rect x="240.3" y="327.02" width="1.2" height="1.2" fill="#e8e8e8"/>
<rect x="240.3" y="335.2" width="1.2" height="1.2" fill="#e8e8e8"/>
<rect x="240.3" y="343.38" width="1.2" height="1.2" fill="#e8e8e8"/>
<rect x="240.3" y="351.56" width="1.2" height="1.2" fill="#e8e8e8"/>
<rect x="240.3" y="359.74" width="1.2" height="1.2" fill="#e8e8e8"/>
<rect x="240.3" y="367.92" width="1.2" height="1.2" fill="#e8e8e8"/>
<rect x="240.3" y="376.1" width="1.2" height="1.2" fill="#e8e8e8"/>
<rect x="240.3" y="384.28" width="1.2" height="1.2" fill="#e8e8e8"/>
<line x1="205.5" y1="390.8" x2="205.5" y2="387.5" stroke="#111" stroke-width="1.15"/>
<line x1="203.3" y1="387.5" x2="207.7" y2="387.5" stroke="#111" stroke-width="1.4"/>
<line x1="212.5" y1="390.8" x2="212.5" y2="387.5" stroke="#111" stroke-width="1.15"/>
<line x1="210.3" y1="387.5" x2="214.7" y2="387.5" stroke="#111" stroke-width="1.4"/>
<line x1="219.5" y1="390.8" x2="219.5" y2="384.5" stroke="#111" stroke-width="1.15"/>
<line x1="217.3" y1="384.5" x2="221.7" y2="384.5" stroke="#111" stroke-width="1.4"/>
<line x1="226.5" y1="353.1" x2="226.5" y2="347.5" stroke="#111" stroke-width="1.15"/>
<line x1="224.3" y1="347.5" x2="228.7" y2="347.5" stroke="#111" stroke-width="1.4"/>
<line x1="233.5" y1="345.6" x2="233.5" y2="344.5" stroke="#111" stroke-width="1.15"/>
<line x1="231.3" y1="344.5" x2="235.7" y2="344.5" stroke="#111" stroke-width="1.4"/>
<line x1="241.5" y1="324" x2="241.5" y2="313.5" stroke="#111" stroke-width="1.15"/>
<line x1="239.3" y1="313.5" x2="243.7" y2="313.5" stroke="#111" stroke-width="1.4"/>
<line x1="90.6" y1="390.8" x2="249.51" y2="390.8" stroke="#8c8c8c" stroke-width="1"/>
<path d="M177.5 327.8 V324.5 H194.5 V327.8" fill="none" stroke="#111" stroke-width="1.15"/>
<ellipse cx="186.3" cy="319.8" rx="1.6" ry="1.35" fill="#000"/>
<path d="M227.5 310.6 V307.5 H243.5 V310.6" fill="none" stroke="#111" stroke-width="1.15"/>
<ellipse cx="236.5" cy="302.6" rx="1.6" ry="1.35" fill="#000"/>
<text x="103.6" y="411.6" font-size="9.7" font-weight="bold" text-anchor="start" fill="#111" textLength="31" lengthAdjust="spacingAndGlyphs">Week 4</text>
<text x="157.6" y="411.6" font-size="9.7" font-weight="bold" text-anchor="start" fill="#111" textLength="31.3" lengthAdjust="spacingAndGlyphs">Week 8</text>
<text x="206.1" y="411.6" font-size="9.7" font-weight="bold" text-anchor="start" fill="#111" textLength="36.3" lengthAdjust="spacingAndGlyphs">Week 12</text>
<text x="137.5" y="302.1" font-size="12.54" font-weight="bold" text-anchor="start" fill="#111" textLength="75.8" lengthAdjust="spacingAndGlyphs" stroke="#111" stroke-width="0.2">CD34+CD45+</text>
<text transform="translate(48 355.8) rotate(-90)" x="0" y="0" font-size="8.6" font-weight="bold" text-anchor="middle" fill="#111" textLength="100.5" lengthAdjust="spacingAndGlyphs">Percent CD34+CD45+ by</text>
<text transform="translate(60.6 355.6) rotate(-90)" x="0" y="0" font-size="8.6" font-weight="bold" text-anchor="middle" fill="#111" textLength="67" lengthAdjust="spacingAndGlyphs">Flow Cytometry</text>
<line x1="347.5" y1="299.75" x2="347.5" y2="397.9" stroke="#8c8c8c" stroke-width="1.1"/>
<line x1="344.5" y1="299.75" x2="347.5" y2="299.75" stroke="#8c8c8c" stroke-width="1"/>
<text x="337" y="304.55" font-size="9.5" font-weight="normal" text-anchor="end" fill="#1a1a1a" textLength="12.4" lengthAdjust="spacingAndGlyphs" stroke="#1a1a1a" stroke-width="0.25">1.0</text>
<line x1="344.5" y1="318.78" x2="347.5" y2="318.78" stroke="#8c8c8c" stroke-width="1"/>
<text x="337" y="323.58" font-size="9.5" font-weight="normal" text-anchor="end" fill="#1a1a1a" textLength="12.4" lengthAdjust="spacingAndGlyphs" stroke="#1a1a1a" stroke-width="0.25">0.8</text>
<line x1="344.5" y1="337.81" x2="347.5" y2="337.81" stroke="#8c8c8c" stroke-width="1"/>
<text x="337" y="342.61" font-size="9.5" font-weight="normal" text-anchor="end" fill="#1a1a1a" textLength="12.4" lengthAdjust="spacingAndGlyphs" stroke="#1a1a1a" stroke-width="0.25">0.6</text>
<line x1="344.5" y1="356.84" x2="347.5" y2="356.84" stroke="#8c8c8c" stroke-width="1"/>
<text x="337" y="361.64" font-size="9.5" font-weight="normal" text-anchor="end" fill="#1a1a1a" textLength="12.4" lengthAdjust="spacingAndGlyphs" stroke="#1a1a1a" stroke-width="0.25">0.4</text>
<line x1="344.5" y1="375.87" x2="347.5" y2="375.87" stroke="#8c8c8c" stroke-width="1"/>
<text x="337" y="380.67" font-size="9.5" font-weight="normal" text-anchor="end" fill="#1a1a1a" textLength="12.4" lengthAdjust="spacingAndGlyphs" stroke="#1a1a1a" stroke-width="0.25">0.2</text>
<line x1="344.5" y1="394.9" x2="347.5" y2="394.9" stroke="#8c8c8c" stroke-width="1"/>
<text x="337" y="399.7" font-size="9.5" font-weight="normal" text-anchor="end" fill="#1a1a1a" textLength="12.4" lengthAdjust="spacingAndGlyphs" stroke="#1a1a1a" stroke-width="0.25">0.0</text>
<line x1="344.5" y1="394.9" x2="514.39" y2="394.9" stroke="#8c8c8c" stroke-width="1.1"/>
<line x1="403.13" y1="394.9" x2="403.13" y2="397.9" stroke="#8c8c8c" stroke-width="1"/>
<line x1="458.76" y1="394.9" x2="458.76" y2="397.9" stroke="#8c8c8c" stroke-width="1"/>
<line x1="514.39" y1="394.9" x2="514.39" y2="397.9" stroke="#8c8c8c" stroke-width="1"/>
<rect x="359.25" y="373" width="15.5" height="21.9" fill="#fff" stroke="#222" stroke-width="1.1"/>
<rect x="361.9" y="374.94" width="1.2" height="1.2" fill="#555"/>
<rect x="370.1" y="374.94" width="1.2" height="1.2" fill="#555"/>
<rect x="366" y="379.03" width="1.2" height="1.2" fill="#555"/>
<rect x="361.9" y="383.12" width="1.2" height="1.2" fill="#555"/>
<rect x="370.1" y="383.12" width="1.2" height="1.2" fill="#555"/>
<rect x="366" y="387.21" width="1.2" height="1.2" fill="#555"/>
<rect x="361.9" y="391.3" width="1.2" height="1.2" fill="#555"/>
<rect x="370.1" y="391.3" width="1.2" height="1.2" fill="#555"/>
<rect x="375.25" y="350" width="16.5" height="44.9" fill="#000"/>
<rect x="382.4" y="354.49" width="1.2" height="1.2" fill="#e8e8e8"/>
<rect x="378.3" y="358.58" width="1.2" height="1.2" fill="#e8e8e8"/>
<rect x="386.5" y="358.58" width="1.2" height="1.2" fill="#e8e8e8"/>
<rect x="382.4" y="362.67" width="1.2" height="1.2" fill="#e8e8e8"/>
<rect x="378.3" y="366.76" width="1.2" height="1.2" fill="#e8e8e8"/>
<rect x="386.5" y="366.76" width="1.2" height="1.2" fill="#e8e8e8"/>
<rect x="382.4" y="370.85" width="1.2" height="1.2" fill="#e8e8e8"/>
<rect x="378.3" y="374.94" width="1.2" height="1.2" fill="#e8e8e8"/>
<rect x="386.5" y="374.94" width="1.2" height="1.2" fill="#e8e8e8"/>
<rect x="382.4" y="379.03" width="1.2" height="1.2" fill="#e8e8e8"/>
<rect x="378.3" y="383.12" width="1.2" height="1.2" fill="#e8e8e8"/>
<rect x="386.5" y="383.12" width="1.2" height="1.2" fill="#e8e8e8"/>
<rect x="382.4" y="387.21" width="1.2" height="1.2" fill="#e8e8e8"/>
<rect x="378.3" y="391.3" width="1.2" height="1.2" fill="#e8e8e8"/>
<rect x="386.5" y="391.3" width="1.2" height="1.2" fill="#e8e8e8"/>
<line x1="367.5" y1="372.5" x2="367.5" y2="353.5" stroke="#111" stroke-width="1.15"/>
<line x1="365.3" y1="353.5" x2="369.7" y2="353.5" stroke="#111" stroke-width="1.4"/>
<line x1="383.5" y1="350" x2="383.5" y2="340.5" stroke="#111" stroke-width="1.15"/>
<line x1="381.3" y1="340.5" x2="385.7" y2="340.5" stroke="#111" stroke-width="1.4"/>
<rect x="414.88" y="339.9" width="15.5" height="55" fill="#fff" stroke="#222" stroke-width="1.1"/>
<rect x="419.3" y="342.22" width="1.2" height="1.2" fill="#555"/>
<rect x="427.5" y="342.22" width="1.2" height="1.2" fill="#555"/>
<rect x="415.2" y="346.31" width="1.2" height="1.2" fill="#555"/>
<rect x="423.4" y="346.31" width="1.2" height="1.2" fill="#555"/>
<rect x="419.3" y="350.4" width="1.2" height="1.2" fill="#555"/>
<rect x="427.5" y="350.4" width="1.2" height="1.2" fill="#555"/>
<rect x="415.2" y="354.49" width="1.2" height="1.2" fill="#555"/>
<rect x="423.4" y="354.49" width="1.2" height="1.2" fill="#555"/>
<rect x="419.3" y="358.58" width="1.2" height="1.2" fill="#555"/>
<rect x="427.5" y="358.58" width="1.2" height="1.2" fill="#555"/>
<rect x="415.2" y="362.67" width="1.2" height="1.2" fill="#555"/>
<rect x="423.4" y="362.67" width="1.2" height="1.2" fill="#555"/>
<rect x="419.3" y="366.76" width="1.2" height="1.2" fill="#555"/>
<rect x="427.5" y="366.76" width="1.2" height="1.2" fill="#555"/>
<rect x="415.2" y="370.85" width="1.2" height="1.2" fill="#555"/>
<rect x="423.4" y="370.85" width="1.2" height="1.2" fill="#555"/>
<rect x="419.3" y="374.94" width="1.2" height="1.2" fill="#555"/>
<rect x="427.5" y="374.94" width="1.2" height="1.2" fill="#555"/>
<rect x="415.2" y="379.03" width="1.2" height="1.2" fill="#555"/>
<rect x="423.4" y="379.03" width="1.2" height="1.2" fill="#555"/>
<rect x="419.3" y="383.12" width="1.2" height="1.2" fill="#555"/>
<rect x="427.5" y="383.12" width="1.2" height="1.2" fill="#555"/>
<rect x="415.2" y="387.21" width="1.2" height="1.2" fill="#555"/>
<rect x="423.4" y="387.21" width="1.2" height="1.2" fill="#555"/>
<rect x="419.3" y="391.3" width="1.2" height="1.2" fill="#555"/>
<rect x="427.5" y="391.3" width="1.2" height="1.2" fill="#555"/>
<rect x="430.88" y="339.4" width="16.5" height="55.5" fill="#000"/>
<rect x="435.7" y="342.22" width="1.2" height="1.2" fill="#e8e8e8"/>
<rect x="443.9" y="342.22" width="1.2" height="1.2" fill="#e8e8e8"/>
<rect x="431.6" y="346.31" width="1.2" height="1.2" fill="#e8e8e8"/>
<rect x="439.8" y="346.31" width="1.2" height="1.2" fill="#e8e8e8"/>
<rect x="435.7" y="350.4" width="1.2" height="1.2" fill="#e8e8e8"/>
<rect x="443.9" y="350.4" width="1.2" height="1.2" fill="#e8e8e8"/>
<rect x="431.6" y="354.49" width="1.2" height="1.2" fill="#e8e8e8"/>
<rect x="439.8" y="354.49" width="1.2" height="1.2" fill="#e8e8e8"/>
<rect x="435.7" y="358.58" width="1.2" height="1.2" fill="#e8e8e8"/>
<rect x="443.9" y="358.58" width="1.2" height="1.2" fill="#e8e8e8"/>
<rect x="431.6" y="362.67" width="1.2" height="1.2" fill="#e8e8e8"/>
<rect x="439.8" y="362.67" width="1.2" height="1.2" fill="#e8e8e8"/>
<rect x="435.7" y="366.76" width="1.2" height="1.2" fill="#e8e8e8"/>
<rect x="443.9" y="366.76" width="1.2" height="1.2" fill="#e8e8e8"/>
<rect x="431.6" y="370.85" width="1.2" height="1.2" fill="#e8e8e8"/>
<rect x="439.8" y="370.85" width="1.2" height="1.2" fill="#e8e8e8"/>
<rect x="435.7" y="374.94" width="1.2" height="1.2" fill="#e8e8e8"/>
<rect x="443.9" y="374.94" width="1.2" height="1.2" fill="#e8e8e8"/>
<rect x="431.6" y="379.03" width="1.2" height="1.2" fill="#e8e8e8"/>
<rect x="439.8" y="379.03" width="1.2" height="1.2" fill="#e8e8e8"/>
<rect x="435.7" y="383.12" width="1.2" height="1.2" fill="#e8e8e8"/>
<rect x="443.9" y="383.12" width="1.2" height="1.2" fill="#e8e8e8"/>
<rect x="431.6" y="387.21" width="1.2" height="1.2" fill="#e8e8e8"/>
<rect x="439.8" y="387.21" width="1.2" height="1.2" fill="#e8e8e8"/>
<rect x="435.7" y="391.3" width="1.2" height="1.2" fill="#e8e8e8"/>
<rect x="443.9" y="391.3" width="1.2" height="1.2" fill="#e8e8e8"/>
<line x1="422.5" y1="339.4" x2="422.5" y2="320.5" stroke="#111" stroke-width="1.15"/>
<line x1="420.3" y1="320.5" x2="424.7" y2="320.5" stroke="#111" stroke-width="1.4"/>
<line x1="439.5" y1="339.4" x2="439.5" y2="330.5" stroke="#111" stroke-width="1.15"/>
<line x1="437.3" y1="330.5" x2="441.7" y2="330.5" stroke="#111" stroke-width="1.4"/>
<rect x="470.51" y="372.75" width="15.5" height="22.15" fill="#fff" stroke="#222" stroke-width="1.1"/>
<rect x="476.7" y="374.94" width="1.2" height="1.2" fill="#555"/>
<rect x="472.6" y="379.03" width="1.2" height="1.2" fill="#555"/>
<rect x="480.8" y="379.03" width="1.2" height="1.2" fill="#555"/>
<rect x="476.7" y="383.12" width="1.2" height="1.2" fill="#555"/>
<rect x="472.6" y="387.21" width="1.2" height="1.2" fill="#555"/>
<rect x="480.8" y="387.21" width="1.2" height="1.2" fill="#555"/>
<rect x="476.7" y="391.3" width="1.2" height="1.2" fill="#555"/>
<rect x="486.51" y="366.25" width="16.5" height="28.65" fill="#000"/>
<rect x="489" y="370.85" width="1.2" height="1.2" fill="#e8e8e8"/>
<rect x="497.2" y="370.85" width="1.2" height="1.2" fill="#e8e8e8"/>
<rect x="493.1" y="374.94" width="1.2" height="1.2" fill="#e8e8e8"/>
<rect x="501.3" y="374.94" width="1.2" height="1.2" fill="#e8e8e8"/>
<rect x="489" y="379.03" width="1.2" height="1.2" fill="#e8e8e8"/>
<rect x="497.2" y="379.03" width="1.2" height="1.2" fill="#e8e8e8"/>
<rect x="493.1" y="383.12" width="1.2" height="1.2" fill="#e8e8e8"/>
<rect x="501.3" y="383.12" width="1.2" height="1.2" fill="#e8e8e8"/>
<rect x="489" y="387.21" width="1.2" height="1.2" fill="#e8e8e8"/>
<rect x="497.2" y="387.21" width="1.2" height="1.2" fill="#e8e8e8"/>
<rect x="493.1" y="391.3" width="1.2" height="1.2" fill="#e8e8e8"/>
<rect x="501.3" y="391.3" width="1.2" height="1.2" fill="#e8e8e8"/>
<line x1="478.5" y1="372.25" x2="478.5" y2="353.5" stroke="#111" stroke-width="1.15"/>
<line x1="476.3" y1="353.5" x2="480.7" y2="353.5" stroke="#111" stroke-width="1.4"/>
<line x1="494.5" y1="366.25" x2="494.5" y2="356.5" stroke="#111" stroke-width="1.15"/>
<line x1="492.3" y1="356.5" x2="496.7" y2="356.5" stroke="#111" stroke-width="1.4"/>
<line x1="347.5" y1="394.9" x2="514.39" y2="394.9" stroke="#8c8c8c" stroke-width="1"/>
<text x="361.1" y="414.7" font-size="9.7" font-weight="bold" text-anchor="start" fill="#111" textLength="31.3" lengthAdjust="spacingAndGlyphs">Week 4</text>
<text x="418" y="414.7" font-size="9.7" font-weight="bold" text-anchor="start" fill="#111" textLength="31.6" lengthAdjust="spacingAndGlyphs">Week 8</text>
<text x="469.6" y="414.7" font-size="9.7" font-weight="bold" text-anchor="start" fill="#111" textLength="36.2" lengthAdjust="spacingAndGlyphs">Week 12</text>
<text x="400.6" y="303.9" font-size="12.54" font-weight="bold" text-anchor="start" fill="#111" textLength="68.6" lengthAdjust="spacingAndGlyphs" stroke="#111" stroke-width="0.2">CD34+GFP+</text>
<text transform="translate(303.3 356.4) rotate(-90)" x="0" y="0" font-size="8.6" font-weight="bold" text-anchor="middle" fill="#111" textLength="95.4" lengthAdjust="spacingAndGlyphs">Percent CD34+GFP+ by</text>
<text transform="translate(316.4 357.4) rotate(-90)" x="0" y="0" font-size="8.6" font-weight="bold" text-anchor="middle" fill="#111" textLength="67" lengthAdjust="spacingAndGlyphs">Flow Cytometry</text>
<text x="-0.4" y="15.9" font-size="16.5" font-weight="bold" text-anchor="start" fill="#000" textLength="13.2" lengthAdjust="spacingAndGlyphs">A</text>
<text x="0.9" y="161.6" font-size="16" font-weight="bold" text-anchor="start" fill="#000" textLength="13.4" lengthAdjust="spacingAndGlyphs">B</text>
<text x="0.9" y="307.2" font-size="16.5" font-weight="bold" text-anchor="start" fill="#000" textLength="13.2" lengthAdjust="spacingAndGlyphs">C</text>
<rect x="345.3" y="15.4" width="6.5" height="6.5" fill="#000"/>
<text x="354.3" y="22.4" font-size="9.8" font-weight="normal" text-anchor="start" fill="#1a1a1a" textLength="30.6" lengthAdjust="spacingAndGlyphs" stroke="#1a1a1a" stroke-width="0.45">normal</text>
<rect x="345.9" y="30" width="5.4" height="5.4" fill="#fff" stroke="#1a1a1a" stroke-width="1.2"/>
<text x="354.3" y="36.4" font-size="9.8" font-weight="normal" text-anchor="start" fill="#1a1a1a" textLength="58.8" lengthAdjust="spacingAndGlyphs" stroke="#1a1a1a" stroke-width="0.45">no expansion</text>
<rect x="345.9" y="44" width="5.4" height="5.4" fill="#fff" stroke="#111" stroke-width="1.2"/>
<line x1="346.4" y1="48.9" x2="350.8" y2="44.5" stroke="#000" stroke-width="1.4"/>
<text x="354.3" y="50.4" font-size="9.8" font-weight="normal" text-anchor="start" fill="#1a1a1a" textLength="60.3" lengthAdjust="spacingAndGlyphs" stroke="#1a1a1a" stroke-width="0.45">0 ug/ml Delta</text>
<rect x="345.9" y="58" width="5.4" height="5.4" fill="#9a9a9a" stroke="#2a2a2a" stroke-width="1.2"/>
<text x="354.3" y="64.4" font-size="9.8" font-weight="normal" text-anchor="start" fill="#1a1a1a" textLength="68.4" lengthAdjust="spacingAndGlyphs" stroke="#1a1a1a" stroke-width="0.45">2.5 ug/ml Delta</text>
<rect x="345.9" y="72" width="5.4" height="5.4" fill="#fff" stroke="#1a1a1a" stroke-width="1.2"/>
<text x="354.3" y="78.4" font-size="9.8" font-weight="normal" text-anchor="start" fill="#1a1a1a" textLength="85.2" lengthAdjust="spacingAndGlyphs" stroke="#1a1a1a" stroke-width="0.45">HOX+0 ug/ml Delta</text>
<rect x="345.3" y="85.4" width="6.5" height="6.5" fill="#000"/>
<text x="354.3" y="92.4" font-size="9.8" font-weight="normal" text-anchor="start" fill="#1a1a1a" textLength="93.6" lengthAdjust="spacingAndGlyphs" stroke="#1a1a1a" stroke-width="0.45">HOX+2.5 ug/ml Delta</text>
</svg>
</body></html>
